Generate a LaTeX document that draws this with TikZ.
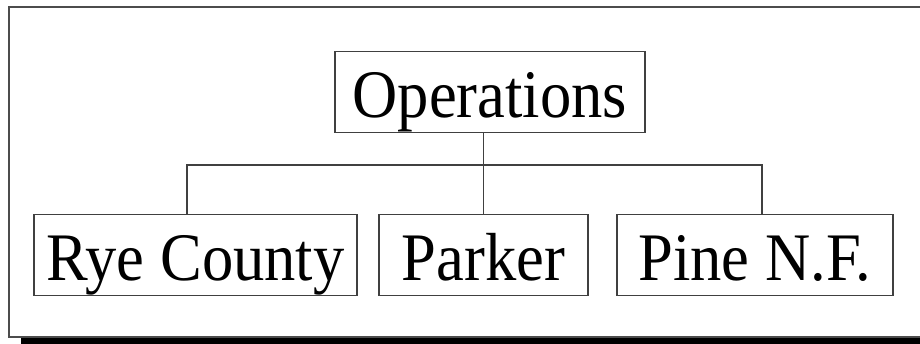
\documentclass[tikz,border=0pt]{standalone}
\usepackage{fontspec}
\setmainfont{Liberation Serif}[FakeStretch=0.92]
\usetikzlibrary{positioning}

\tikzset{
  unit/.style = {draw=black!75, line width=1.2pt, inner sep=0pt,
    text height=66pt, text depth=15pt, font=\fontsize{68}{80}\selectfont},
  link/.style = {draw=black!75, line width=1.2pt}
}

\begin{document}
\begin{tikzpicture}[x=1pt, y=1pt]
		\useasboundingbox (0,0) rectangle (920,344);
		% shadow and frame
		\fill [black] (21,-5) rectangle (930,7);
		\draw [black!70, line width=2pt] (930,337) -- (9,337) -- (9,7) -- (930,7);
		% boxes
		\node [unit, minimum width=310pt] (ops) at (490,252) {Operations};
		\node [unit, minimum width=323pt] (rye) at (195.5,89) {Rye County};
		\node [unit, minimum width=209pt] (parker) at (483.5,89) {Parker};
		\node [unit, minimum width=276pt] (pine) at (755,89) {Pine N.F.};
		% connectors
		\coordinate (hub) at (483.5,179);
		\draw [link] (ops.south -| hub) -- (hub);
		\draw [link] ([xshift=-8.5pt]rye.north) |- (hub) -| ([xshift=7pt]pine.north);
		\draw [link] (hub) -- (hub |- parker.north);
	\end{tikzpicture}
\end{document}
